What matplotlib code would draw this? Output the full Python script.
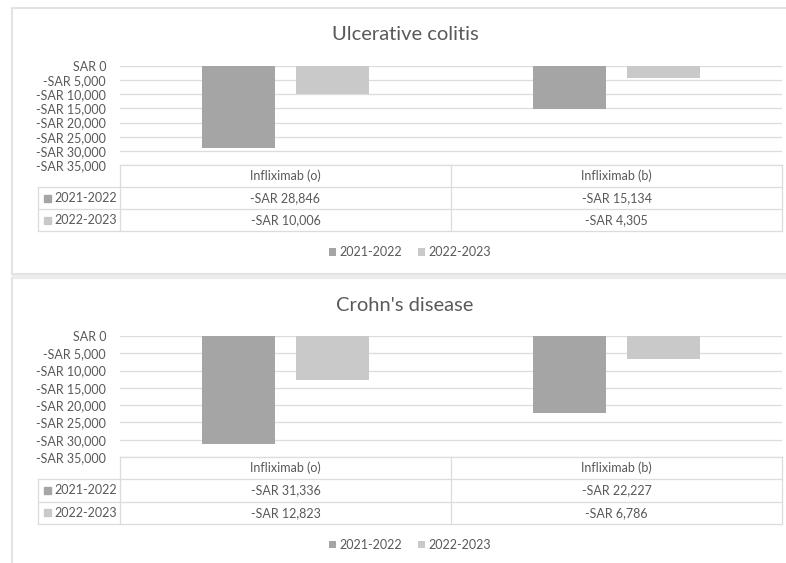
import matplotlib.pyplot as plt
from matplotlib.patches import Rectangle
from matplotlib.ticker import FuncFormatter, MultipleLocator

plt.rcParams["font.family"] = ["Lato", "DejaVu Sans"]

categories = ["Infliximab (o)", "Infliximab (b)"]
periods = ["2021-2022", "2022-2023"]
colors = ["#a5a5a5", "#c9c9c9"]

uc_2021_2022 = [-28846, -15134]
uc_2022_2023 = [-10006, -4305]
cd_2021_2022 = [-31336, -22227]
cd_2022_2023 = [-12823, -6786]

W, H = 786, 563
TEXT = "#595959"
GRID = "#dcdcdc"


def box(x0, y0, x1, y1):
    """Pixel box (top-left origin) -> figure rect"""
    return [x0 / W, 1 - y1 / H, (x1 - x0) / W, (y1 - y0) / H]


def sar(v):
    if v == 0:
        return "SAR 0"
    sign = "-" if v < 0 else ""
    return f"{sign}SAR {abs(v):,.0f}"


def draw_panel(fig, title, series, top, plot_h, row_h):
    # layout of one panel, all in pixels relative to the panel top
    plot_top = top + 58
    plot_bot = plot_top + plot_h
    title_y = top + 27

    fig.text(405 / W, 1 - title_y / H, title, ha="center", va="center",
             fontsize=14.5, color=TEXT)

    ax = fig.add_axes(box(120, plot_top, 782, plot_bot))
    width = 0.22
    offsets = [-0.142, 0.142]
    handles = []
    for values, off, color, label in zip(series, offsets, colors, periods):
        h = ax.bar([i + off for i in range(len(categories))], values,
                   width=width, color=color, label=label, zorder=2)
        handles.append(h)
    ax.set_xlim(-0.5, len(categories) - 0.5)
    ax.set_ylim(-35000, 0)
    ax.yaxis.set_major_locator(MultipleLocator(5000))
    ax.yaxis.set_major_formatter(FuncFormatter(lambda v, p: sar(v)))
    ax.tick_params(axis="y", length=0, pad=10, labelsize=9, labelcolor=TEXT)
    ax.set_xticks([])
    ax.grid(axis="y", color=GRID, lw=0.9, zorder=0)
    for s in ax.spines.values():
        s.set_visible(False)
    ax.set_facecolor("none")

    # data table underneath the bars
    rows = [plot_bot + i * row_h for i in range(4)]
    tab = fig.add_axes(box(38, rows[0], 782, rows[3]))
    tab.set_xlim(38, 782)
    tab.set_ylim(rows[3], rows[0])
    tab.axis("off")
    lc = dict(color=GRID, lw=0.9, clip_on=False)
    tab.plot([120, 782], [rows[0]] * 2, **lc)
    for y in rows[1:]:
        tab.plot([38, 782], [y, y], **lc)
    tab.plot([38, 38], [rows[1], rows[3]], **lc)
    for x in (120, 451, 782):
        tab.plot([x, x], [rows[0], rows[3]], **lc)

    col_mid = [285.5, 616.5]
    for cx, name in zip(col_mid, categories):
        tab.text(cx, (rows[0] + rows[1]) / 2, name, ha="center", va="center",
                 fontsize=9, color=TEXT)
    for r, (values, color, label) in enumerate(zip(series, colors, periods)):
        yc = (rows[r + 1] + rows[r + 2]) / 2
        tab.add_patch(Rectangle((44, yc - 3.5), 7, 7, color=color))
        tab.text(54, yc, label, ha="left", va="center", fontsize=9, color=TEXT)
        for cx, v in zip(col_mid, values):
            tab.text(cx, yc, sar(v), ha="center", va="center",
                     fontsize=9, color=TEXT)

    legend_y = rows[3] + 21
    fig.legend(handles=handles, labels=periods, loc="center",
               bbox_to_anchor=(410 / W, 1 - legend_y / H), ncol=2,
               frameon=False, fontsize=9, labelcolor=TEXT,
               handlelength=0.6, handleheight=0.6, handletextpad=0.3,
               columnspacing=1.2)


fig = plt.figure(figsize=(W / 100, H / 100), dpi=100)
fig.patch.set_facecolor("white")

# panel frames, kept behind the axes
frame = dict(transform=fig.transFigure, facecolor="white",
             edgecolor="#e3e3e3", lw=1.5, zorder=-10)
fig.patches.append(Rectangle((12 / W, 1 - 274 / H), 790 / W, 266 / H, **frame))
fig.patches.append(Rectangle((12 / W, 1 - 600 / H), 790 / W, 322 / H, **frame))
fig.patches.append(Rectangle((12 / W, 1 - 279 / H), 790 / W, 4 / H,
                             transform=fig.transFigure, facecolor="#ececec",
                             edgecolor="none", zorder=-9))

draw_panel(fig, "Ulcerative colitis", [uc_2021_2022, uc_2022_2023], 8, 99, 22)
draw_panel(fig, "Crohn's disease", [cd_2021_2022, cd_2022_2023], 278, 121, 22.3)

fig.savefig("out.png", dpi=100)
